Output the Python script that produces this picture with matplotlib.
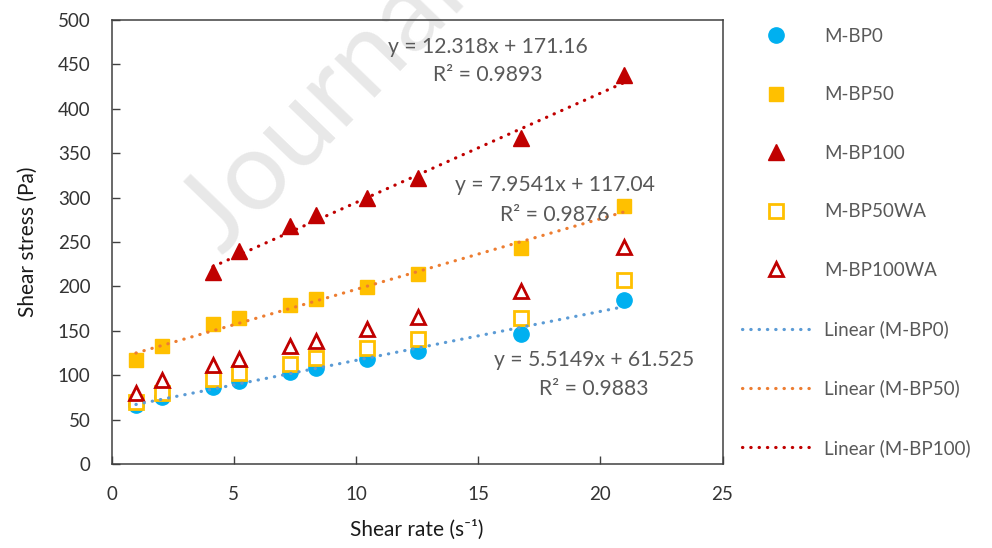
import matplotlib
matplotlib.use("Agg")
import matplotlib.pyplot as plt
import numpy as np

plt.rcParams['font.family'] = ['Lato', 'DejaVu Sans']

# ---- data ----
shear_rate = [1.0, 2.05, 4.15, 5.2, 7.3, 8.35, 10.45, 12.55, 16.75, 20.95]
m_bp0 = [66, 75, 87, 93, 104, 108, 118, 127, 146, 185]
m_bp50 = [117, 133, 158, 164, 179, 186, 199, 214, 243, 290]
shear_rate_100 = [4.15, 5.2, 7.3, 8.35, 10.45, 12.55, 16.75, 20.95]
m_bp100 = [216, 240, 268, 280, 300, 322, 367, 438]
m_bp50wa = [70, 80, 96, 102, 113, 119, 131, 141, 164, 207]
m_bp100wa = [80, 95, 111, 118, 133, 139, 152, 165, 195, 244]

fit_slopes = [5.5149, 7.9541, 12.318]
fit_intercepts = [61.525, 117.04, 171.16]
fit_r2 = ["0.9883", "0.9876", "0.9893"]
fit_names = ["M-BP0", "M-BP50", "M-BP100"]

x_ticks = [0, 5, 10, 15, 20, 25]
y_ticks = [0, 50, 100, 150, 200, 250, 300, 350, 400, 450, 500]

# ---- figure ----
W, H = 992, 548
fig = plt.figure(figsize=(W / 100, H / 100), dpi=100)
ax = fig.add_axes([111.5 / W, 1 - 464 / H, (722.5 - 111.5) / W, (464 - 20) / H])

# watermark (behind everything)
fig.text(222 / W, 1 - 256 / H, "Journal Pre-proof", fontsize=80, color='#E8E8E8',
         rotation=46, rotation_mode='anchor', ha='left', va='baseline', zorder=-5,
         family=['Lato', 'DejaVu Sans'])
ax.patch.set_alpha(0)

blue = '#00B0F0'
gold = '#FFC000'
red = '#C00000'

ax.plot(shear_rate, m_bp0, 'o', ms=11, color=blue, mec=blue, label='M-BP0', zorder=3)
ax.plot(shear_rate, m_bp50, 's', ms=10.5, color=gold, mec=gold, label='M-BP50', zorder=3)
ax.plot(shear_rate_100, m_bp100, '^', ms=11.5, color=red, mec=red, label='M-BP100', zorder=3)
ax.plot(shear_rate, m_bp50wa, 's', ms=10, mfc='white', mec=gold, mew=2, label='M-BP50WA', zorder=3)
ax.plot(shear_rate, m_bp100wa, '^', ms=10.5, mfc='white', mec=red, mew=2, label='M-BP100WA', zorder=3)

trend_colors = ['#5B9BD5', '#ED7D31', '#C00000']
xs_sets = [shear_rate, shear_rate, shear_rate_100]
for xs, k, b, c, name in zip(xs_sets, fit_slopes, fit_intercepts, trend_colors, fit_names):
    xx = np.array([min(xs), max(xs)])
    ax.plot(xx, k * xx + b, color=c, lw=2.3, linestyle=(0, (0.1, 2.5)),
            dash_capstyle='round', label=f'Linear ({name})', zorder=4)

# equation labels
eq_pos = [(19.75, 360, 389), (18.15, 185, 215), (15.4, 47, 75)]
for (xc, y1, y2), k, b, r2 in zip(eq_pos, fit_slopes, fit_intercepts, fit_r2):
    ax.text(xc, (464 - y1) / 0.888, f"y = {k}x + {b}", ha='center', va='center',
            fontsize=15.2, color='#595959', zorder=5)
    ax.text(xc, (464 - y2) / 0.888, f"R² = {r2}", ha='center', va='center',
            fontsize=15.2, color='#595959', zorder=5)

ax.set_xlim(0, 25)
ax.set_ylim(0, 500)
ax.set_xticks(x_ticks)
ax.set_yticks(y_ticks)
ax.tick_params(direction='in', length=6, width=1, colors='#404040', labelsize=13.5,
               labelcolor='#333333')
ax.tick_params(axis='x', pad=16)
ax.tick_params(axis='y', pad=15)
for s in ax.spines.values():
    s.set_color('#404040')
    s.set_linewidth(1.1)

ax.set_xlabel("Shear rate (s⁻¹)", fontsize=15, color='#1a1a1a', labelpad=12)
ax.set_ylabel("Shear stress (Pa)", fontsize=15, color='#1a1a1a', labelpad=14)

leg = ax.legend(loc='upper left', bbox_to_anchor=(742 / W, 1 - 28 / H),
                bbox_transform=fig.transFigure, frameon=False, fontsize=13.5,
                handlelength=3.6, handletextpad=0.8, labelspacing=2.21,
                borderaxespad=0, borderpad=0, labelcolor='#595959')

fig.savefig('out.png', dpi=100)
